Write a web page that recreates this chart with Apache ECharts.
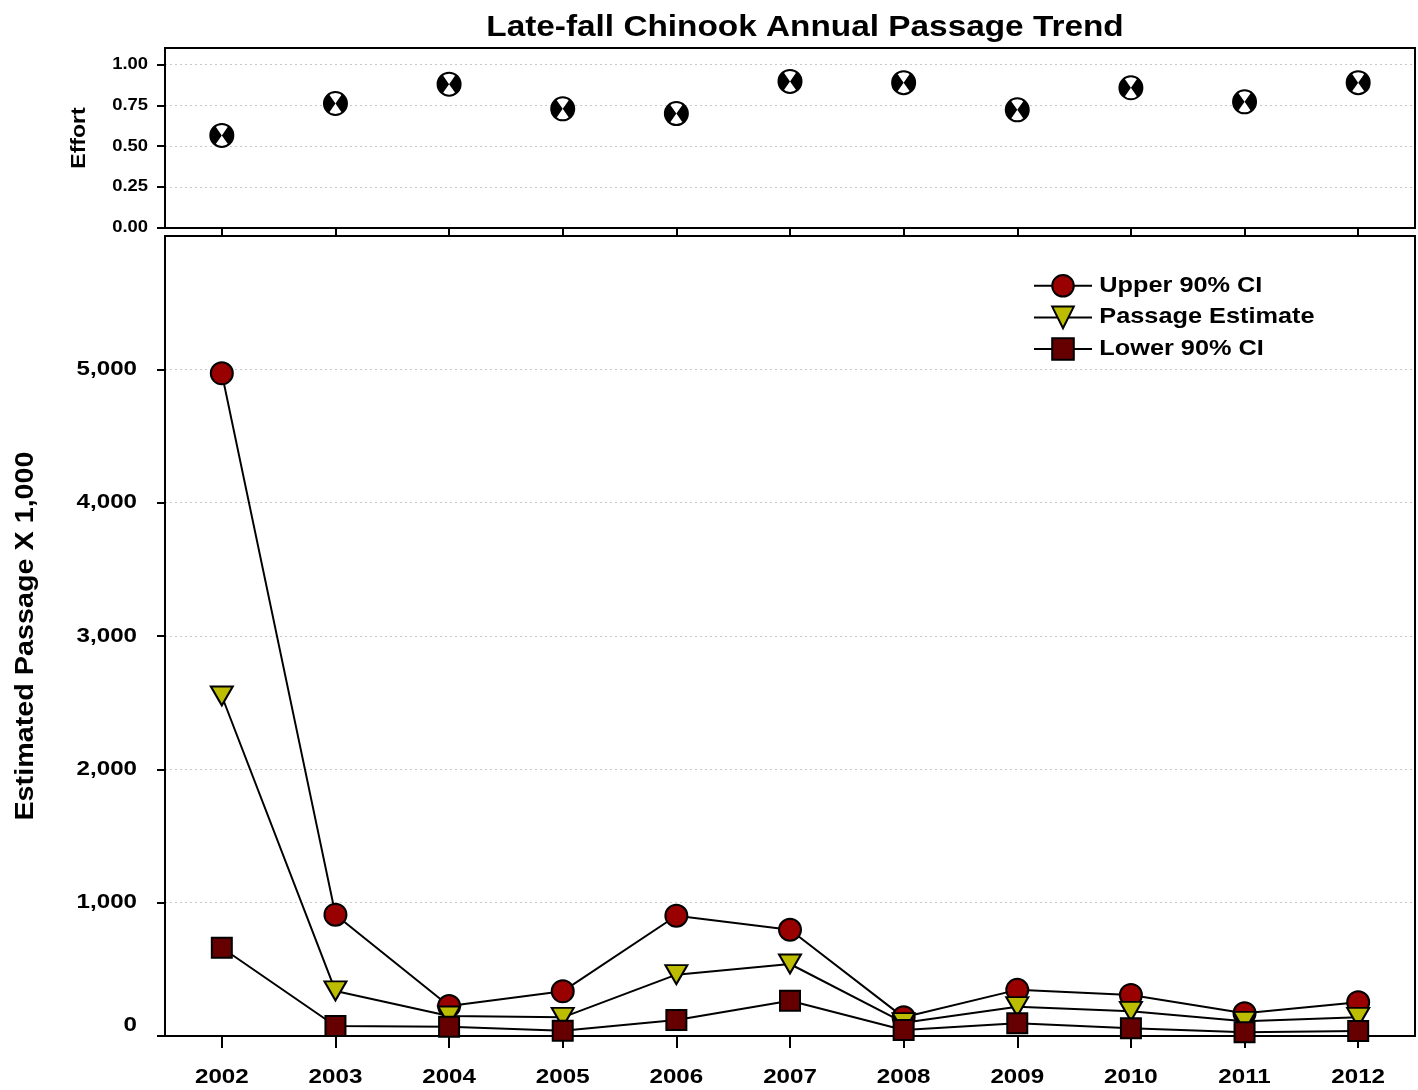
<!DOCTYPE html>
<html>
<head>
<meta charset="utf-8">
<script src="https://cdn.jsdelivr.net/npm/echarts@6/dist/echarts.min.js"></script>
<style>
  html, body { margin: 0; padding: 0; background: #fff; }
  #chart { width: 1418px; height: 1090px; }
</style>
</head>
<body>
<div id="chart"></div>
<script>
// Survey years
const years = [2002, 2003, 2004, 2005, 2006, 2007, 2008, 2009, 2010, 2011, 2012];

// Sampling effort (fraction of season fished)
const effort = [0.566, 0.761, 0.879, 0.728, 0.699, 0.896, 0.888, 0.722, 0.857, 0.771, 0.888];

// Passage estimates, thousands of fish
const upperCI = [4970, 910, 225, 335, 902, 797, 140, 346, 308, 170, 253];
const passageEstimate = [2550, 338, 150, 140, 460, 540, 100, 220, 185, 110, 140];
const lowerCI = [662, 75, 70, 40, 120, 265, 45, 95, 58, 28, 38];

// Tick values
const effortTicks = [0, 0.25, 0.5, 0.75, 1.0];
const passageTicks = [0, 1000, 2000, 3000, 4000, 5000];

const FONT = '"Liberation Sans", Arial, Helvetica, sans-serif';
// Lettering is set in a horizontally widened bold sans
const TEXT_STRETCH = 1.15;

const pairs = (vals) => years.map((y, i) => [y, vals[i]]);

const chart = echarts.init(document.getElementById('chart'), null, { renderer: 'canvas' });

const dotted = { show: true, lineStyle: { color: '#c8c8c8', type: [2, 3], width: 1 } };

// Effort marker: white disc with black left/right wedges
function effortMarker(params, api) {
  const p = api.coord([api.value(0), api.value(1)]);
  const r = 11.5;
  const half = Math.PI * 55 / 180;
  return {
    type: 'group',
    children: [
      { type: 'circle', shape: { cx: p[0], cy: p[1], r: r }, style: { fill: '#fff', stroke: '#000', lineWidth: 2 } },
      { type: 'sector', shape: { cx: p[0], cy: p[1], r0: 0, r: r, startAngle: Math.PI - half, endAngle: Math.PI + half }, style: { fill: '#000' } },
      { type: 'sector', shape: { cx: p[0], cy: p[1], r0: 0, r: r, startAngle: -half, endAngle: half }, style: { fill: '#000' } }
    ]
  };
}

const downTriangle = 'path://M0,0 L20,0 L10,17 Z';

chart.setOption({
  animation: false,
  backgroundColor: '#fff',
  title: {
    text: 'Late-fall Chinook Annual Passage Trend',
    left: 800, top: 8, textAlign: 'center',
    textStyle: { fontFamily: FONT, fontWeight: 'bold', fontSize: 29, color: '#000' }
  },
  legend: {
    data: ['Upper 90% CI', 'Passage Estimate', 'Lower 90% CI'],
    orient: 'vertical',
    left: 1028, top: 269,
    itemWidth: 58, itemHeight: 27, itemGap: 8,
    textStyle: { fontFamily: FONT, fontWeight: 'bold', fontSize: 22, color: '#000', padding: [0, 0, 0, 2] },
    selectedMode: false
  },
  grid: [
    { left: 165, right: 3, top: 48, height: 180, show: true, borderColor: '#000', borderWidth: 2, backgroundColor: 'transparent' },
    { left: 165, right: 3, top: 236, bottom: 54, show: true, borderColor: '#000', borderWidth: 2, backgroundColor: 'transparent' }
  ],
  xAxis: [
    {
      gridIndex: 0, type: 'value', min: 2001.5, max: 2012.5,
      axisLine: { show: true, onZero: false, lineStyle: { color: '#000', width: 2 } },
      axisTick: { show: true, inside: false, length: 7, lineStyle: { color: '#000', width: 2 }, customValues: years },
      axisLabel: { show: false },
      splitLine: { show: false }
    },
    {
      gridIndex: 1, type: 'value', min: 2001.5, max: 2012.5,
      axisLine: { show: true, onZero: false, lineStyle: { color: '#000', width: 2 } },
      axisTick: { show: true, inside: false, length: 12, lineStyle: { color: '#000', width: 2 }, customValues: years },
      axisLabel: {
        show: true, margin: 31, customValues: years,
        fontFamily: FONT, fontWeight: 'bold', fontSize: 21, color: '#000',
        formatter: (v) => String(v)
      },
      splitLine: { show: false }
    }
  ],
  yAxis: [
    {
      gridIndex: 0, type: 'value', min: 0, max: 1.1, interval: 0.25,
      name: 'Effort', nameLocation: 'middle', nameGap: 76, nameRotate: 90,
      nameTextStyle: { fontFamily: FONT, fontWeight: 'bold', fontSize: 20, color: '#000' },
      axisLine: { show: true, lineStyle: { color: '#000', width: 2 } },
      axisTick: { show: true, inside: false, length: 8, lineStyle: { color: '#000', width: 2 }, customValues: effortTicks },
      axisLabel: {
        show: true, margin: 17, customValues: effortTicks,
        fontFamily: FONT, fontWeight: 'bold', fontSize: 16, color: '#000',
        formatter: (v) => v.toFixed(2)
      },
      splitLine: dotted
    },
    {
      gridIndex: 1, type: 'value', min: 0, max: 6000, interval: 1000,
      name: 'Estimated Passage X 1,000', nameLocation: 'middle', nameGap: 126, nameRotate: 90,
      nameTextStyle: { fontFamily: FONT, fontWeight: 'bold', fontSize: 25, color: '#000' },
      axisLine: { show: true, lineStyle: { color: '#000', width: 2 } },
      axisTick: { show: true, inside: false, length: 8, lineStyle: { color: '#000', width: 2 }, customValues: passageTicks },
      axisLabel: {
        show: true, margin: 28, customValues: passageTicks,
        fontFamily: FONT, fontWeight: 'bold', fontSize: 21, color: '#000',
        formatter: (v) => v === 0 ? '{z|0}' : v.toLocaleString('en-US'),
        rich: { z: { fontFamily: FONT, fontWeight: 'bold', fontSize: 21, color: '#000', padding: [0, 0, 22, 0] } }
      },
      splitLine: dotted
    }
  ],
  series: [
    {
      name: 'Effort', type: 'custom', xAxisIndex: 0, yAxisIndex: 0,
      renderItem: effortMarker,
      data: pairs(effort), z: 5
    },
    {
      name: 'Upper 90% CI', type: 'line', xAxisIndex: 1, yAxisIndex: 1,
      data: pairs(upperCI),
      symbol: 'circle', symbolSize: 22,
      lineStyle: { color: '#000', width: 2 },
      itemStyle: { color: '#990000', borderColor: '#000', borderWidth: 2 },
      z: 3
    },
    {
      name: 'Passage Estimate', type: 'line', xAxisIndex: 1, yAxisIndex: 1,
      data: pairs(passageEstimate),
      symbol: downTriangle, symbolSize: [22, 19],
      lineStyle: { color: '#000', width: 2 },
      itemStyle: { color: '#bcbc00', borderColor: '#000', borderWidth: 2 },
      z: 4
    },
    {
      name: 'Lower 90% CI', type: 'line', xAxisIndex: 1, yAxisIndex: 1,
      data: pairs(lowerCI),
      symbol: 'rect', symbolSize: 20,
      lineStyle: { color: '#000', width: 2 },
      itemStyle: { color: '#660000', borderColor: '#000', borderWidth: 2 },
      z: 5
    }
  ]
});

// Widen every text element about its own anchor point
function widenText(el) {
  if (el.isGroup) { el.eachChild(widenText); return; }
  if (el.type === 'text') {
    el.originX = (el.style && el.style.x) || 0;
    el.originY = (el.style && el.style.y) || 0;
    el.scaleX = TEXT_STRETCH;
    el.markRedraw();
  }
}
const zr = chart.getZr();
zr.storage.getRoots().forEach(widenText);
zr.refresh();
</script>
</body>
</html>
